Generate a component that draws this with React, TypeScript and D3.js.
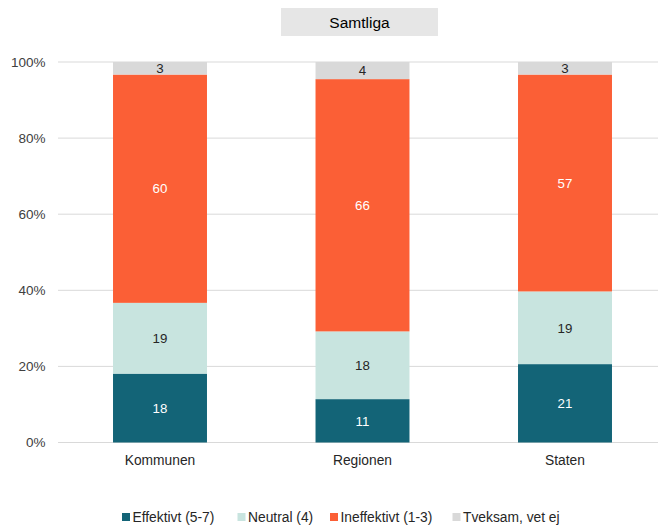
import React from "react";
import * as d3 from "d3";

const categories = ["Kommunen", "Regionen", "Staten"];
const seriesNames = ["Effektivt (5-7)", "Neutral (4)", "Ineffektivt (1-3)", "Tveksam, vet ej"];
const effektivt = [18.1, 11.4, 20.6];
const neutral = [18.6, 17.8, 19.1];
const ineffektivt = [60.0, 66.3, 57.0];
const tveksam = [3.3, 4.5, 3.3];
const labelsEffektivt = [18, 11, 21];
const labelsNeutral = [19, 18, 19];
const labelsIneffektivt = [60, 66, 57];
const labelsTveksam = [3, 4, 3];
const yTicks = [0, 20, 40, 60, 80, 100];
const title = "Samtliga";

const colors = ["#136477", "#C8E4DF", "#FB5F36", "#D9D9D9"];
const labelColors = ["#FFFFFF", "#262626", "#FFFFFF", "#262626"];

const W = 658;
const H = 527;
const FONT = "'Liberation Sans', Arial, sans-serif";

export default function App() {
  const series = [effektivt, neutral, ineffektivt, tveksam];
  const labels = [labelsEffektivt, labelsNeutral, labelsIneffektivt, labelsTveksam];

  const x = d3.scaleBand<string>().domain(categories).range([58.75, 666.25]).padding(0);
  const y = d3.scaleLinear().domain([0, 100]).range([442.5, 62]);
  const barW = x.bandwidth() * 0.464;

  const rows = categories.map((c, i) => {
    const r: any = { cat: c };
    series.forEach((s, k) => (r["s" + k] = s[i]));
    return r;
  });
  const stack = d3.stack<any>().keys(series.map((_, k) => "s" + k))(rows);

  const legendX = [122, 237.5, 330, 452.5];

  return (
    <svg width={W} height={H} style={{ position: "absolute", left: 0, top: 0, background: "#fff" }} fontFamily={FONT}>
      <rect x={281} y={8} width={157} height={28} fill="#E6E6E6" />
      <text x={359.5} y={27.5} textAnchor="middle" fontSize={15.5} fill="#000">{title}</text>

      {yTicks.map((t) => (
        <g key={t}>
          <line x1={58} x2={x.range()[1]} y1={y(t)} y2={y(t)} stroke="#D9D9D9" strokeWidth={1} />
          <text x={45.5} y={y(t)} dy="0.36em" textAnchor="end" fontSize={13.5} fill="#404040">{t}%</text>
        </g>
      ))}

      {stack.map((layer, k) => (
        <g key={k}>
          {layer.map((d, i) => {
            const bx = (x(categories[i]) as number) + (x.bandwidth() - barW) / 2;
            const y0 = y(d[0]);
            const y1 = y(d[1]);
            return (
              <g key={i}>
                <rect x={bx} y={y1} width={barW} height={y0 - y1} fill={colors[k]} />
                <text x={bx + barW / 2} y={(y0 + y1) / 2} dy="0.36em" textAnchor="middle" fontSize={13.3} fill={labelColors[k]}>
                  {labels[k][i]}
                </text>
              </g>
            );
          })}
        </g>
      ))}

      {categories.map((c) => (
        <text key={c} x={(x(c) as number) + x.bandwidth() / 2} y={465} textAnchor="middle" fontSize={13.8} fill="#262626">{c}</text>
      ))}

      {seriesNames.map((n, k) => (
        <g key={n}>
          <rect x={legendX[k]} y={513} width={8} height={8} fill={colors[k]} />
          <text x={legendX[k] + 10.5} y={521.5} fontSize={13.8} fill="#262626">{n}</text>
        </g>
      ))}
    </svg>
  );
}
